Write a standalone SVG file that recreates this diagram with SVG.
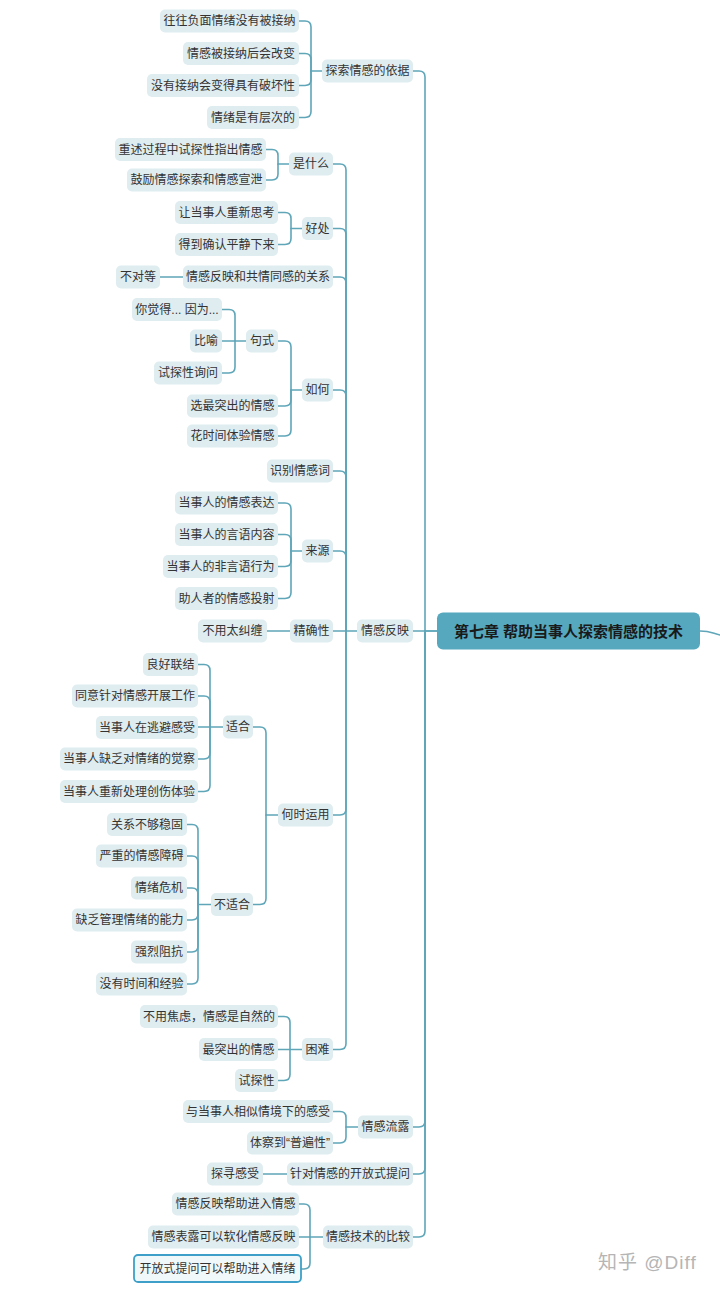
<svg xmlns="http://www.w3.org/2000/svg" width="720" height="1290" viewBox="0 0 720 1290">
<style>
.n rect{fill:#dfedf1;}
.n text{font-family:"Liberation Sans","Noto Sans CJK SC",sans-serif;font-size:12px;fill:#333;text-anchor:middle;}
.c path{fill:none;stroke:#5fa6b9;stroke-width:1.6;stroke-linecap:round;}
.root rect{fill:#55a8be;}
.root text{font-family:"Liberation Sans","Noto Sans CJK SC",sans-serif;font-size:15px;font-weight:bold;fill:#1a1a1a;text-anchor:middle;}
.sel rect{fill:#f1f8fa;stroke:#3ea0c8;stroke-width:1.8;}
</style>
<rect width="720" height="1290" fill="#ffffff"/>
<g id="connectors" class="c">
<path d="M700,631 C710,631 712,633 720,635"/>
<path d="M413,71 H419 Q425,71 425,77 V631 H437"/>
<path d="M413,631 H437"/>
<path d="M413,1127 H419 Q425,1127 425,1121 V631"/>
<path d="M413,1174 H419 Q425,1174 425,1168 V631"/>
<path d="M413,1237 H419 Q425,1237 425,1231 V631"/>
<path d="M299,21 H305 Q311,21 311,27 V71 H322"/>
<path d="M299,53.5 H305 Q311,53.5 311,59.5 V71"/>
<path d="M299,85.5 H305 Q311,85.5 311,79.5 V71"/>
<path d="M299,117.5 H305 Q311,117.5 311,111.5 V71"/>
<path d="M333,164 H340 Q346,164 346,170 V631"/>
<path d="M333,228.5 H340 Q346,228.5 346,234.5 V631"/>
<path d="M333,277 H340 Q346,277 346,283 V631"/>
<path d="M333,390 H340 Q346,390 346,396 V631"/>
<path d="M333,471 H340 Q346,471 346,477 V631"/>
<path d="M333,551 H340 Q346,551 346,557 V631"/>
<path d="M333,631 H357"/>
<path d="M333,815 H340 Q346,815 346,809 V631"/>
<path d="M333,1049.5 H340 Q346,1049.5 346,1043.5 V631"/>
<path d="M266,149.5 H272 Q278,149.5 278,155.5 V164 H289"/>
<path d="M266,180 H272 Q278,180 278,174 V164"/>
<path d="M278,212.5 H285 Q291,212.5 291,218.5 V228.5 H302"/>
<path d="M278,244.5 H285 Q291,244.5 291,238.5 V228.5"/>
<path d="M160,277 H183"/>
<path d="M278,341 H285 Q291,341 291,347 V390 H302"/>
<path d="M278,406 H285 Q291,406 291,400 V390"/>
<path d="M278,436 H285 Q291,436 291,430 V390"/>
<path d="M222,309.5 H229 Q235,309.5 235,315.5 V341"/>
<path d="M222,341 H246"/>
<path d="M222,373 H229 Q235,373 235,367 V341"/>
<path d="M278,503 H285 Q291,503 291,509 V551 H302"/>
<path d="M278,534.5 H285 Q291,534.5 291,540.5 V551"/>
<path d="M278,566.5 H285 Q291,566.5 291,560.5 V551"/>
<path d="M278,598.5 H285 Q291,598.5 291,592.5 V551"/>
<path d="M267,631 H290"/>
<path d="M253,727 H260 Q266,727 266,733 V815 H278"/>
<path d="M253,904.5 H260 Q266,904.5 266,898.5 V815"/>
<path d="M198,664.5 H204 Q210,664.5 210,670.5 V727"/>
<path d="M198,696 H204 Q210,696 210,702 V727"/>
<path d="M198,727 H223"/>
<path d="M198,759 H204 Q210,759 210,753 V727"/>
<path d="M198,791.5 H204 Q210,791.5 210,785.5 V727"/>
<path d="M187,824.5 H192 Q198,824.5 198,830.5 V904.5 H211"/>
<path d="M187,856 H192 Q198,856 198,862 V904.5"/>
<path d="M187,888 H192 Q198,888 198,894 V904.5"/>
<path d="M187,920 H192 Q198,920 198,914 V904.5"/>
<path d="M187,952 H192 Q198,952 198,946 V904.5"/>
<path d="M187,984 H192 Q198,984 198,978 V904.5"/>
<path d="M278,1016.5 H284 Q290,1016.5 290,1022.5 V1049.5"/>
<path d="M278,1049.5 H302"/>
<path d="M278,1080.5 H284 Q290,1080.5 290,1074.5 V1049.5"/>
<path d="M333,1111.5 H340 Q346,1111.5 346,1117.5 V1127 H358"/>
<path d="M333,1143 H340 Q346,1143 346,1137 V1127"/>
<path d="M263,1174 H287"/>
<path d="M299,1204 H304 Q310,1204 310,1210 V1237"/>
<path d="M299,1237 H323"/>
<path d="M299,1269 H304 Q310,1269 310,1263 V1237"/>
</g>
<g id="root" class="root"><rect x="437" y="612.5" width="263" height="37" rx="6"/><text x="568.5" y="636.5">第七章 帮助当事人探索情感的技术</text></g>
<g id="n-yiju" class="n"><rect x="322" y="59.5" width="91" height="23" rx="5"/><text x="367.5" y="75.3">探索情感的依据</text></g>
<g id="n-yiju1" class="n"><rect x="160" y="9.5" width="139" height="23" rx="5"/><text x="229.5" y="25.3">往往负面情绪没有被接纳</text></g>
<g id="n-yiju2" class="n"><rect x="183" y="42" width="116" height="23" rx="5"/><text x="241" y="57.8">情感被接纳后会改变</text></g>
<g id="n-yiju3" class="n"><rect x="147" y="74" width="152" height="23" rx="5"/><text x="223" y="89.8">没有接纳会变得具有破坏性</text></g>
<g id="n-yiju4" class="n"><rect x="207" y="106" width="92" height="23" rx="5"/><text x="253" y="121.8">情绪是有层次的</text></g>
<g id="n-fanying" class="n"><rect x="357" y="619.5" width="56" height="23" rx="5"/><text x="385" y="635.3">情感反映</text></g>
<g id="n-shenme" class="n"><rect x="289" y="152.5" width="44" height="23" rx="5"/><text x="311" y="168.3">是什么</text></g>
<g id="n-shenme1" class="n"><rect x="115" y="138" width="151" height="23" rx="5"/><text x="190.5" y="153.8">重述过程中试探性指出情感</text></g>
<g id="n-shenme2" class="n"><rect x="127" y="168.5" width="139" height="23" rx="5"/><text x="196.5" y="184.3">鼓励情感探索和情感宣泄</text></g>
<g id="n-haochu" class="n"><rect x="302" y="217" width="31" height="23" rx="5"/><text x="317.5" y="232.8">好处</text></g>
<g id="n-haochu1" class="n"><rect x="175" y="201" width="103" height="23" rx="5"/><text x="226.5" y="216.8">让当事人重新思考</text></g>
<g id="n-haochu2" class="n"><rect x="175" y="233" width="103" height="23" rx="5"/><text x="226.5" y="248.8">得到确认平静下来</text></g>
<g id="n-guanxi" class="n"><rect x="183" y="265.5" width="150" height="23" rx="5"/><text x="258" y="281.3">情感反映和共情同感的关系</text></g>
<g id="n-buduideng" class="n"><rect x="116" y="265.5" width="44" height="23" rx="5"/><text x="138" y="281.3">不对等</text></g>
<g id="n-ruhe" class="n"><rect x="302" y="378.5" width="31" height="23" rx="5"/><text x="317.5" y="394.3">如何</text></g>
<g id="n-jushi" class="n"><rect x="246" y="329.5" width="32" height="23" rx="5"/><text x="262" y="345.3">句式</text></g>
<g id="n-jushi1" class="n"><rect x="132" y="298" width="90" height="23" rx="5"/><text x="177" y="313.8">你觉得... 因为...</text></g>
<g id="n-jushi2" class="n"><rect x="190" y="329.5" width="32" height="23" rx="5"/><text x="206" y="345.3">比喻</text></g>
<g id="n-jushi3" class="n"><rect x="154" y="361.5" width="68" height="23" rx="5"/><text x="188" y="377.3">试探性询问</text></g>
<g id="n-ruhe2" class="n"><rect x="187" y="394.5" width="91" height="23" rx="5"/><text x="232.5" y="410.3">选最突出的情感</text></g>
<g id="n-ruhe3" class="n"><rect x="187" y="424.5" width="91" height="23" rx="5"/><text x="232.5" y="440.3">花时间体验情感</text></g>
<g id="n-shibie" class="n"><rect x="267" y="459.5" width="66" height="23" rx="5"/><text x="300" y="475.3">识别情感词</text></g>
<g id="n-laiyuan" class="n"><rect x="302" y="539.5" width="31" height="23" rx="5"/><text x="317.5" y="555.3">来源</text></g>
<g id="n-laiyuan1" class="n"><rect x="175" y="491.5" width="103" height="23" rx="5"/><text x="226.5" y="507.3">当事人的情感表达</text></g>
<g id="n-laiyuan2" class="n"><rect x="175" y="523" width="103" height="23" rx="5"/><text x="226.5" y="538.8">当事人的言语内容</text></g>
<g id="n-laiyuan3" class="n"><rect x="163" y="555" width="115" height="23" rx="5"/><text x="220.5" y="570.8">当事人的非言语行为</text></g>
<g id="n-laiyuan4" class="n"><rect x="175" y="587" width="103" height="23" rx="5"/><text x="226.5" y="602.8">助人者的情感投射</text></g>
<g id="n-jingque" class="n"><rect x="290" y="619.5" width="43" height="23" rx="5"/><text x="311.5" y="635.3">精确性</text></g>
<g id="n-jiuchan" class="n"><rect x="198" y="619.5" width="69" height="23" rx="5"/><text x="232.5" y="635.3">不用太纠缠</text></g>
<g id="n-heshi" class="n"><rect x="278" y="803.5" width="55" height="23" rx="5"/><text x="305.5" y="819.3">何时运用</text></g>
<g id="n-shihe" class="n"><rect x="223" y="715.5" width="30" height="23" rx="5"/><text x="238" y="731.3">适合</text></g>
<g id="n-shihe1" class="n"><rect x="143" y="653" width="55" height="23" rx="5"/><text x="170.5" y="668.8">良好联结</text></g>
<g id="n-shihe2" class="n"><rect x="72" y="684.5" width="126" height="23" rx="5"/><text x="135" y="700.3">同意针对情感开展工作</text></g>
<g id="n-shihe3" class="n"><rect x="96" y="716" width="102" height="23" rx="5"/><text x="147" y="731.8">当事人在逃避感受</text></g>
<g id="n-shihe4" class="n"><rect x="60" y="747.5" width="138" height="23" rx="5"/><text x="129" y="763.3">当事人缺乏对情绪的觉察</text></g>
<g id="n-shihe5" class="n"><rect x="60" y="780" width="138" height="23" rx="5"/><text x="129" y="795.8">当事人重新处理创伤体验</text></g>
<g id="n-bushihe" class="n"><rect x="211" y="893" width="42" height="23" rx="5"/><text x="232" y="908.8">不适合</text></g>
<g id="n-bushihe1" class="n"><rect x="107" y="813" width="80" height="23" rx="5"/><text x="147" y="828.8">关系不够稳固</text></g>
<g id="n-bushihe2" class="n"><rect x="96" y="844.5" width="91" height="23" rx="5"/><text x="141.5" y="860.3">严重的情感障碍</text></g>
<g id="n-bushihe3" class="n"><rect x="131" y="876.5" width="56" height="23" rx="5"/><text x="159" y="892.3">情绪危机</text></g>
<g id="n-bushihe4" class="n"><rect x="72" y="908.5" width="115" height="23" rx="5"/><text x="129.5" y="924.3">缺乏管理情绪的能力</text></g>
<g id="n-bushihe5" class="n"><rect x="131" y="940.5" width="56" height="23" rx="5"/><text x="159" y="956.3">强烈阻抗</text></g>
<g id="n-bushihe6" class="n"><rect x="96" y="972.5" width="91" height="23" rx="5"/><text x="141.5" y="988.3">没有时间和经验</text></g>
<g id="n-kunnan" class="n"><rect x="302" y="1038" width="31" height="23" rx="5"/><text x="317.5" y="1053.8">困难</text></g>
<g id="n-kunnan1" class="n"><rect x="140" y="1005" width="138" height="23" rx="5"/><text x="209" y="1020.8">不用焦虑，情感是自然的</text></g>
<g id="n-kunnan2" class="n"><rect x="199" y="1038" width="79" height="23" rx="5"/><text x="238.5" y="1053.8">最突出的情感</text></g>
<g id="n-kunnan3" class="n"><rect x="235" y="1069" width="43" height="23" rx="5"/><text x="256.5" y="1084.8">试探性</text></g>
<g id="n-liulu" class="n"><rect x="358" y="1115.5" width="55" height="23" rx="5"/><text x="385.5" y="1131.3">情感流露</text></g>
<g id="n-liulu1" class="n"><rect x="183" y="1100" width="150" height="23" rx="5"/><text x="258" y="1115.8">与当事人相似情境下的感受</text></g>
<g id="n-liulu2" class="n"><rect x="247" y="1131.5" width="86" height="23" rx="5"/><text x="290" y="1147.3">体察到“普遍性”</text></g>
<g id="n-tiwen" class="n"><rect x="287" y="1162.5" width="126" height="23" rx="5"/><text x="350" y="1178.3">针对情感的开放式提问</text></g>
<g id="n-tanxun" class="n"><rect x="207" y="1162.5" width="56" height="23" rx="5"/><text x="235" y="1178.3">探寻感受</text></g>
<g id="n-bijiao" class="n"><rect x="323" y="1225.5" width="90" height="23" rx="5"/><text x="368" y="1241.3">情感技术的比较</text></g>
<g id="n-bijiao1" class="n"><rect x="172" y="1192.5" width="127" height="23" rx="5"/><text x="235.5" y="1208.3">情感反映帮助进入情感</text></g>
<g id="n-bijiao2" class="n"><rect x="148" y="1225.5" width="151" height="23" rx="5"/><text x="223.5" y="1241.3">情感表露可以软化情感反映</text></g>
<g id="n-bijiao3" class="n sel"><rect x="134" y="1255" width="167" height="27" rx="4"/><text x="217.5" y="1273.3">开放式提问可以帮助进入情绪</text></g>
<text x="598" y="1269" font-family="Liberation Sans, Noto Sans CJK SC, sans-serif" font-size="19" letter-spacing="1" fill="#b5b5b5">知乎 @Diff</text>
</svg>
